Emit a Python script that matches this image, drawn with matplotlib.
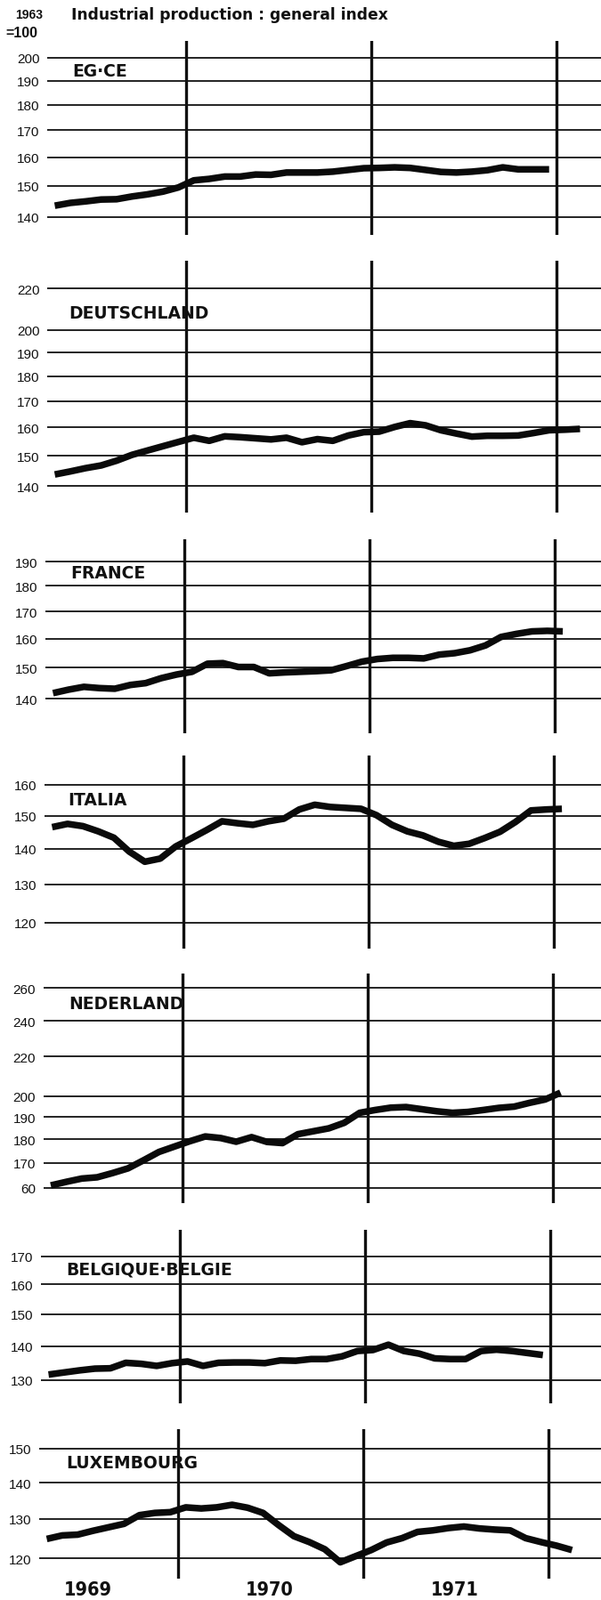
import numpy as np
import matplotlib
matplotlib.use("Agg")
import matplotlib.pyplot as plt
from matplotlib import font_manager as fm
from matplotlib.ticker import FixedLocator, FixedFormatter, NullLocator

# ---------------- data (monthly index, 1963 = 100) ----------------
# x axis: month number counted from Jan 1969 (0); year boundaries at 12, 24, 36
eg_ce_start = 3.5
eg_ce = [143.5, 144.4, 144.9, 145.5, 145.6, 146.5, 147.2, 148.1, 149.5, 151.9,
         152.4, 153.2, 153.2, 153.9, 153.8, 154.6, 154.6, 154.6, 154.9, 155.5,
         156.1, 156.2, 156.4, 156.2, 155.5, 154.8, 154.6, 154.9, 155.4, 156.4,
         155.7, 155.7, 155.7]

deutschland_start = 3.5
deutschland = [143.7, 144.7, 145.8, 146.7, 148.3, 150.3, 151.8, 153.3, 154.8, 156.3,
               155.2, 156.8, 156.5, 156.1, 155.7, 156.3, 154.7, 155.8, 155.2, 157.1,
               158.3, 158.5, 160.2, 161.6, 160.8, 159.0, 157.8, 156.7, 157.0, 157.0,
               157.1, 158.0, 159.0, 159.2, 159.5]

france_start = 3.5
france = [141.7, 142.8, 143.7, 143.3, 143.1, 144.3, 144.9, 146.5, 147.7, 148.6,
          151.3, 151.5, 150.2, 150.2, 148.1, 148.4, 148.6, 148.8, 149.1, 150.5,
          152.0, 152.9, 153.3, 153.3, 153.1, 154.4, 154.9, 155.9, 157.6, 160.6,
          161.7, 162.6, 162.8, 162.6]

italia_start = 3.5
italia = [146.5, 147.5, 146.8, 145.2, 143.3, 139.2, 136.3, 137.2, 140.7, 143.1,
          145.6, 148.3, 147.7, 147.2, 148.3, 149.1, 152.0, 153.5, 152.8, 152.5,
          152.2, 150.2, 147.2, 145.2, 144.0, 142.1, 140.9, 141.5, 143.2, 145.1,
          148.1, 151.7, 152.0, 152.2]

nederland_start = 3.5
nederland = [161.0, 162.4, 163.7, 164.2, 165.9, 167.8, 171.1, 174.6, 176.9, 179.2,
             181.3, 180.6, 179.0, 181.0, 178.9, 178.4, 182.3, 183.6, 184.9, 187.4,
             192.0, 193.3, 194.4, 194.7, 193.7, 192.7, 192.0, 192.4, 193.3, 194.3,
             194.9, 196.7, 198.3, 201.6]

belgique_start = 3.5
belgique = [131.6, 132.2, 132.8, 133.3, 133.4, 135.0, 134.7, 134.1, 134.9, 135.4,
            134.1, 135.0, 135.1, 135.1, 134.9, 135.7, 135.6, 136.1, 136.1, 136.9,
            138.5, 138.8, 140.4, 138.5, 137.7, 136.3, 136.1, 136.1, 138.5, 138.9,
            138.5, 137.9, 137.3]

luxembourg_start = 3.5
luxembourg = [124.8, 125.7, 125.9, 126.9, 127.8, 128.7, 131.0, 131.6, 131.8, 133.1,
              132.8, 133.1, 133.8, 133.0, 131.6, 128.4, 125.5, 124.0, 122.2, 119.0,
              120.5, 122.0, 123.9, 125.0, 126.6, 127.0, 127.6, 128.0, 127.5, 127.2,
              127.0, 125.0, 124.0, 123.1, 122.0]

year_boundaries = [12, 24, 36]
year_labels = ["1969", "1970", "1971"]

ticks_eg = [140, 150, 160, 170, 180, 190, 200]
ticks_de = [140, 150, 160, 170, 180, 190, 200, 220]
ticks_fr = [140, 150, 160, 170, 180, 190]
ticks_it = [120, 130, 140, 150, 160]
ticks_nl = [160, 170, 180, 190, 200, 220, 240, 260]
ticklabels_nl = ["60", "170", "180", "190", "200", "220", "240", "260"]
ticks_be = [130, 140, 150, 160, 170]
ticks_lu = [120, 130, 140, 150]

# ---------------- fonts ----------------
ttf = fm.fontManager.ttflist
avail = {f.name for f in ttf}
SANS = "Liberation Sans" if "Liberation Sans" in avail else "DejaVu Sans"
BOLDWIDE = "DejaVu Sans"
cond = [f for f in ttf if f.name == "DejaVu Sans" and str(f.stretch) in ("condensed", "semi-condensed", "75", "87")]
HAS_COND = len(cond) > 0

# ---------------- layout (pixels) ----------------
W, H = 675, 1799
fig = plt.figure(figsize=(W / 100, H / 100), dpi=100)
PXM = 17.35  # pixels per month
INK = "#111111"

panels = [
    dict(name="EG·CE", vals=eg_ce, start=eg_ce_start, ticks=ticks_eg, labels=None,
         v1=209, top=47, bottom=265, ref=(200, 66, 140, 244.5), lab=(81, 80)),
    dict(name="DEUTSCHLAND", vals=deutschland, start=deutschland_start, ticks=ticks_de, labels=None,
         v1=209, top=294, bottom=577, ref=(220, 325, 140, 547), lab=(77, 353)),
    dict(name="FRANCE", vals=france, start=france_start, ticks=ticks_fr, labels=None,
         v1=207, top=607, bottom=825, ref=(190, 632, 140, 786), lab=(79, 644)),
    dict(name="ITALIA", vals=italia, start=italia_start, ticks=ticks_it, labels=None,
         v1=206, top=850, bottom=1067, ref=(160, 883, 120, 1038), lab=(76, 900)),
    dict(name="NEDERLAND", vals=nederland, start=nederland_start, ticks=ticks_nl, labels=ticklabels_nl,
         v1=204.5, top=1095, bottom=1353, ref=(260, 1111, 160, 1336), lab=(77, 1128)),
    dict(name="BELGIQUE·BELGIE", vals=belgique, start=belgique_start, ticks=ticks_be, labels=None,
         v1=202, top=1383, bottom=1578, ref=(170, 1413, 130, 1552), lab=(74, 1427)),
    dict(name="LUXEMBOURG", vals=luxembourg, start=luxembourg_start, ticks=ticks_lu, labels=None,
         v1=200, top=1607, bottom=1775, ref=(150, 1629, 120, 1752), lab=(74, 1645)),
]

for p in panels:
    L = p["v1"] - 156
    ax = fig.add_axes([L / W, 1 - p["bottom"] / H, (W - L) / W, (p["bottom"] - p["top"]) / H])
    ax.patch.set_alpha(0)
    ax.set_yscale("log")
    vt, pt, vb, pb = p["ref"]
    k = np.log(vt / vb) / (pb - pt)
    ax.set_ylim(vb * np.exp(-k * (p["bottom"] - pb)), vt * np.exp(k * (pt - p["top"])))
    ax.set_xlim(12 - (p["v1"] - L) / PXM, 12 + (W - p["v1"]) / PXM)
    ax.yaxis.set_major_locator(FixedLocator(p["ticks"]))
    labs = p["labels"] if p["labels"] else [str(t) for t in p["ticks"]]
    ax.yaxis.set_major_formatter(FixedFormatter(labs))
    ax.yaxis.set_minor_locator(NullLocator())
    ax.yaxis.set_minor_formatter(FixedFormatter([]))
    ax.set_xticks([])
    for s in ax.spines.values():
        s.set_visible(False)
    ax.tick_params(axis="y", length=0, pad=6, labelsize=11, labelcolor=INK)
    for t in ax.get_yticklabels():
        t.set_fontfamily(SANS)
    ax.grid(axis="y", color=INK, lw=1.3)
    ax.grid(axis="x", visible=False)
    for xb in year_boundaries:
        ax.axvline(xb, color=INK, lw=2.4, zorder=2)
    x = p["start"] + np.arange(len(p["vals"]))
    ax.plot(x, p["vals"], color="#0a0a0a", lw=5.4, solid_capstyle="butt",
            solid_joinstyle="round", zorder=3)
    fig.text(p["lab"][0] / W, 1 - p["lab"][1] / H, p["name"], ha="left", va="center",
             fontsize=13.5, fontweight="bold", family=BOLDWIDE, color=INK, zorder=5)

# header
fig.text(33 / W, 1 - 17 / H, "1963", ha="center", va="center", fontsize=10,
         fontweight="bold", family=SANS, color=INK)
fig.text(24 / W, 1 - 37 / H, "=100", ha="center", va="center", fontsize=11.5,
         fontweight="bold", family=SANS, color=INK)
fig.text(80 / W, 1 - 17 / H, "Industrial production : general index", ha="left", va="center",
         fontsize=12.3, fontweight="bold", family=BOLDWIDE, color=INK)

# year labels along the bottom
year_px = [99, 303, 511]
for lab, xp in zip(year_labels, year_px):
    if HAS_COND:
        fig.text(xp / W, 1 - 1787 / H, lab, ha="center", va="center", fontsize=15.5,
                 fontweight="bold", family="DejaVu Sans", fontstretch="condensed", color=INK)
    else:
        fig.text(xp / W, 1 - 1787 / H, lab, ha="center", va="center", fontsize=14,
                 fontweight="bold", family=SANS, color=INK)

fig.savefig("out.png", dpi=100, facecolor="white")
